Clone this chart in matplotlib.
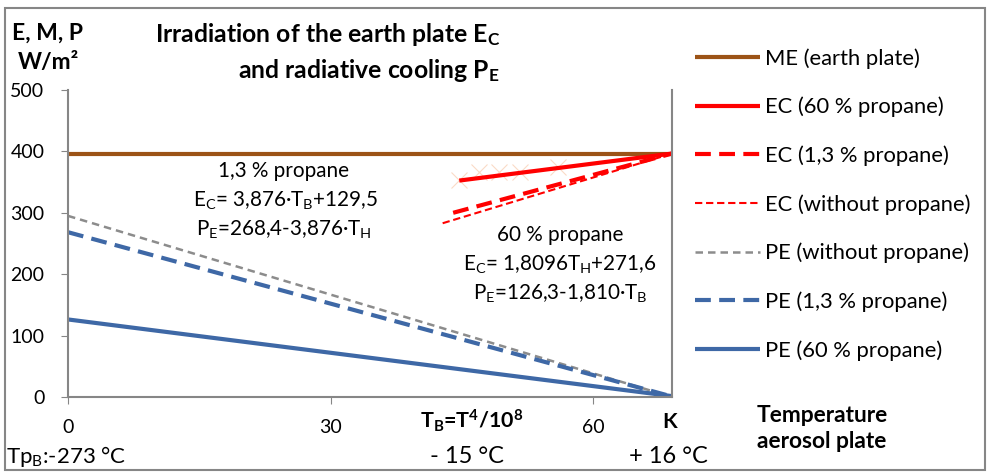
import matplotlib.pyplot as plt

# ---------------------- data ----------------------
xmax = 69.0

me_x = [0, 69.0]
me_y = [396, 396]

ec60_x = [44.7, 69.0]
ec60_y = [352.5, 396.5]

ec13_x = [44.0, 69.0]
ec13_y = [300.0, 396.5]

ec0_x = [42.8, 69.0]
ec0_y = [283.0, 396.5]

pe0_x = [0, 69.0]
pe0_y = [295.0, 0]

pe13_x = [0, 69.2]
pe13_y = [268.4, 0]

pe60_x = [0, 69.8]
pe60_y = [126.3, 0]

# faint cross markers along the EC 60 % line
cross_x = [44.7, 46.9, 49.2, 51.6, 56.0]
cross_y = [353, 366, 366, 366, 375]

xticks = [0, 30, 60]
yticks = [0, 100, 200, 300, 400, 500]

# ---------------------- style ----------------------
FONT = 'Lato'
plt.rcParams['font.family'] = [FONT, 'DejaVu Sans']
plt.rcParams['mathtext.fontset'] = 'custom'
plt.rcParams['mathtext.rm'] = FONT
plt.rcParams['mathtext.it'] = FONT + ':italic'
plt.rcParams['mathtext.bf'] = FONT + ':bold'

brown = '#9C5317'
red = '#FF0000'
grey = '#8C8C8C'
blue = '#3E68A6'
axis_grey = '#868686'

fig = plt.figure(figsize=(9.89, 4.73), dpi=100)
ax = fig.add_axes([68 / 989, 1 - 397 / 473, 604 / 989, 307 / 473])

ax.plot(me_x, me_y, color=brown, lw=3.0, label='ME (earth plate)', solid_capstyle='butt')
ax.plot(ec60_x, ec60_y, color=red, lw=3.0, label='EC (60 % propane)', solid_capstyle='butt')
ax.plot(ec13_x, ec13_y, color=red, lw=3.0, dashes=(3.8, 2.0), label='EC (1,3 % propane)')
ax.plot(ec0_x, ec0_y, color=red, lw=1.5, dashes=(3.5, 1.8), label='EC (without propane)')
ax.plot(pe0_x, pe0_y, color=grey, lw=1.8, dashes=(3.0, 2.0), label='PE (without propane)')
ax.plot(pe13_x, pe13_y, color=blue, lw=3.0, dashes=(3.8, 2.0), label='PE (1,3 % propane)')
ax.plot(pe60_x, pe60_y, color=blue, lw=3.0, label='PE (60 % propane)', solid_capstyle='butt')
ax.plot(cross_x, cross_y, ls='none', marker='x', ms=12, mew=0.8, color='#FADBC6', zorder=1)

ax.set_xlim(0, xmax)
ax.set_ylim(0, 500)
ax.set_xticks(xticks)
ax.set_yticks(yticks)
ax.tick_params(direction='out', length=5, color=axis_grey, labelsize=14)
ax.tick_params(axis='y', pad=12)
ax.tick_params(axis='x', pad=11)
for s in ['left', 'bottom', 'right']:
    ax.spines[s].set_color(axis_grey)
    ax.spines[s].set_linewidth(1.5)
ax.spines['top'].set_visible(False)
ax.set_facecolor('none')

# ---------------------- texts ----------------------
fig.text(48 / 989, 1 - 33 / 473, 'E, M, P', ha='center', va='center', fontsize=16.5, fontweight='bold')
fig.text(48 / 989, 1 - 63 / 473, 'W/m²', ha='center', va='center', fontsize=16.5, fontweight='bold')
fig.text(500 / 989, 1 - 34 / 473, r'Irradiation of the earth plate E$_\mathbf{C}$',
         ha='right', va='center', fontsize=17.8, fontweight='bold')
fig.text(500 / 989, 1 - 70 / 473, r'and radiative cooling P$_\mathbf{E}$',
         ha='right', va='center', fontsize=17.8, fontweight='bold')

fs = 14.9
fig.text(284 / 989, 1 - 171 / 473, '1,3 % propane', ha='center', va='center', fontsize=fs)
fig.text(285 / 989, 1 - 201 / 473, r'E$_\mathregular{C}$= 3,876·T$_\mathregular{B}$+129,5',
         ha='center', va='center', fontsize=fs)
fig.text(284 / 989, 1 - 230 / 473, r'P$_\mathregular{E}$=268,4-3,876·T$_\mathregular{H}$',
         ha='center', va='center', fontsize=fs)
fig.text(560 / 989, 1 - 235 / 473, '60 % propane', ha='center', va='center', fontsize=fs)
fig.text(560 / 989, 1 - 265 / 473, r'E$_\mathregular{C}$= 1,8096T$_\mathregular{H}$+271,6',
         ha='center', va='center', fontsize=fs)
fig.text(560 / 989, 1 - 294 / 473, r'P$_\mathregular{E}$=126,3-1,810·T$_\mathregular{B}$',
         ha='center', va='center', fontsize=fs)

fig.text(472 / 989, 1 - 421 / 473, r'T$_\mathbf{B}$=T$^\mathbf{4}$/10$^\mathbf{8}$',
         ha='center', va='center', fontsize=15.4, fontweight='bold')
fig.text(670 / 989, 1 - 422 / 473, 'K', ha='center', va='center', fontsize=15.4, fontweight='bold')
fig.text(757 / 989, 1 - 415 / 473, 'Temperature', ha='left', va='center', fontsize=16.4, fontweight='bold')
fig.text(757 / 989, 1 - 441 / 473, 'aerosol plate', ha='left', va='center', fontsize=16.4, fontweight='bold')

fig.text(6 / 989, 1 - 456 / 473, r'Tp$_\mathregular{B}$:-273 °C', ha='left', va='center', fontsize=16)
fig.text(467 / 989, 1 - 456 / 473, '- 15 °C', ha='center', va='center', fontsize=17)
fig.text(668 / 989, 1 - 456 / 473, '+ 16 °C', ha='center', va='center', fontsize=17)

handles, labels = ax.get_legend_handles_labels()
fig.legend(handles[:7], labels[:7], loc='upper left', bbox_to_anchor=(695 / 989, 1 - 48 / 473),
           frameon=False, fontsize=15.8, handlelength=2.97, handletextpad=0.23,
           labelspacing=1.28, borderpad=0, borderaxespad=0)

# outer border
fig.patches.append(plt.Rectangle((5 / 989, 3 / 473), 980 / 989, 462 / 473, transform=fig.transFigure,
                                 fill=False, edgecolor=axis_grey, lw=1.5))

fig.savefig('out.png', dpi=100)
